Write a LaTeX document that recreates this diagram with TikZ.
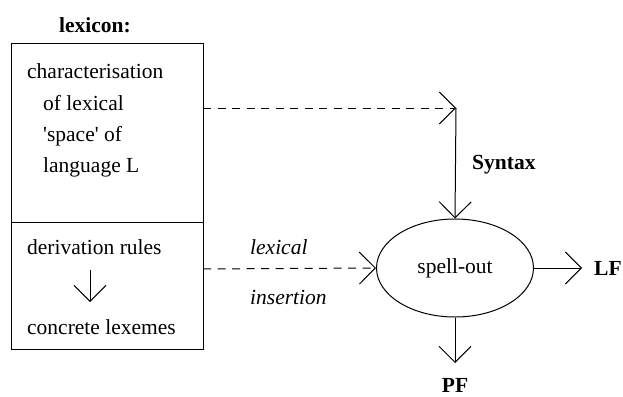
\documentclass[tikz,border=0pt]{standalone}
\usepackage{fontspec}
\setmainfont{Liberation Serif}
\newfontfamily\qfont{Liberation Serif}[Ligatures=TeXOff]
\usetikzlibrary{arrows.meta,shapes.geometric}
\begin{document}
\begin{tikzpicture}[x=1pt,y=-1pt,
  every node/.style={font=\fontsize{21.5}{24}\selectfont, inner sep=0pt},
  boxpart/.style={draw, line width=1pt, minimum width=192pt, inner sep=0pt},
  txt/.style={anchor=west},
  lbl/.style={font=\fontsize{21.5}{24}\selectfont\bfseries},
  conn/.style={line width=1pt, -{Straight Barb[length=16pt,width=32pt,line width=1pt]}},
  dashconn/.style={conn, dash pattern=on 8pt off 6.5pt}]
\useasboundingbox (0,0) rectangle (623,396);
\node[lbl] (lex) at (95,25) {lexicon:};
\node[boxpart, minimum height=178pt] (box1) at (107,133) {};
\node[boxpart, minimum height=127pt] (box2) at (107,285.5) {};
\node[txt] (t1) at (27,71) {characterisation};
\node[txt] (t2) at (43,103) {of lexical};
\node[txt] (t3) at (43,136) {{\qfont '}space{\qfont '} of};
\node[txt] (t4) at (43,167) {language L};
\node[txt] (d1) at (27,247) {derivation rules};
\node[txt] (d2) at (27,327) {concrete lexemes};
\coordinate (da) at (90,270);
\coordinate (db) at (90,302);
\draw[conn] (da) -- (db);
\node[draw, ellipse, line width=1pt, minimum width=157pt, minimum height=98pt] (so) at (455,268) {spell-out};
\coordinate (syn) at (456,108);
\coordinate (b1e) at (203,108);
\coordinate (b2e) at (203,269);
\draw[dashconn] (b1e) -- (syn);
\draw[conn] (syn) -- (so.north);
\node[lbl, anchor=west] (sx) at (472,165) {Syntax};
\draw[dashconn] (b2e) -- (so.west);
\node[txt, font=\fontsize{21.5}{24}\selectfont\itshape] (li1) at (250,247) {lexical};
\node[txt, font=\fontsize{21.5}{24}\selectfont\itshape] (li2) at (250,297) {insertion};
\node[lbl, anchor=west] (lf) at (594,268) {LF};
\coordinate (lfe) at (582,268);
\draw[conn] (so.east) -- (lfe);
\node[lbl] (pf) at (455,385) {PF};
\coordinate (pfe) at (455,363);
\draw[conn] (so.south) -- (pfe);
\end{tikzpicture}
\end{document}
